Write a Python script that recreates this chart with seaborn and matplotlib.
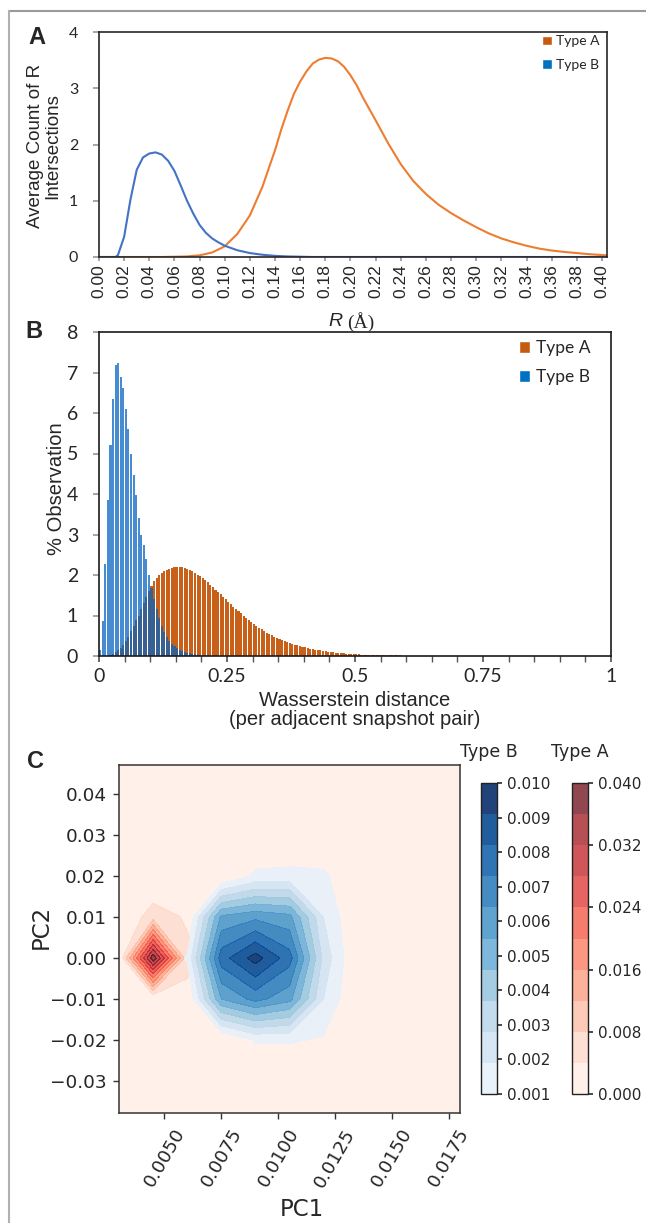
import numpy as np
import pandas as pd
import matplotlib
matplotlib.use("Agg")
import matplotlib.pyplot as plt
import seaborn as sns
from matplotlib.patches import Patch
from matplotlib.lines import Line2D
from matplotlib.colors import ListedColormap
from matplotlib.ticker import FuncFormatter

# ---------------- Panel A data ----------------
r_type_a = [0.00, 0.02, 0.04, 0.05, 0.06, 0.07, 0.08, 0.09, 0.10, 0.11, 0.12, 0.13, 0.14,
            0.145, 0.15, 0.155, 0.16, 0.165, 0.17, 0.175, 0.18, 0.185, 0.19, 0.195, 0.20,
            0.205, 0.21, 0.215, 0.22, 0.23, 0.24, 0.25, 0.26, 0.27, 0.28, 0.29, 0.30, 0.31,
            0.32, 0.33, 0.34, 0.35, 0.36, 0.37, 0.38, 0.39, 0.40, 0.404]
count_type_a = [0, 0, 0, 0, 0.005, 0.01, 0.03, 0.08, 0.19, 0.41, 0.74, 1.25, 1.9,
                2.27, 2.6, 2.9, 3.12, 3.3, 3.44, 3.51, 3.54, 3.53, 3.48, 3.38, 3.23,
                3.05, 2.83, 2.63, 2.43, 2.02, 1.65, 1.35, 1.12, 0.93, 0.78, 0.65, 0.53, 0.42,
                0.33, 0.26, 0.2, 0.15, 0.115, 0.09, 0.07, 0.05, 0.035, 0.03]
r_type_b = [0.00, 0.010, 0.013, 0.015, 0.020, 0.025, 0.030, 0.035, 0.040, 0.045, 0.050,
            0.055, 0.060, 0.065, 0.070, 0.075, 0.080, 0.085, 0.090, 0.095, 0.100, 0.110,
            0.120, 0.130, 0.140, 0.150, 0.160, 0.170, 0.200, 0.300, 0.404]
count_type_b = [0, 0, 0, 0.03, 0.36, 1.02, 1.55, 1.77, 1.84, 1.86, 1.82,
                1.71, 1.53, 1.27, 1.0, 0.77, 0.57, 0.43, 0.33, 0.26, 0.2, 0.12,
                0.07, 0.04, 0.02, 0.01, 0.005, 0, 0, 0, 0]
r_ticks = [0.00, 0.02, 0.04, 0.06, 0.08, 0.10, 0.12, 0.14, 0.16, 0.18, 0.20, 0.22, 0.24,
           0.26, 0.28, 0.30, 0.32, 0.34, 0.36, 0.38, 0.40]

# ---------------- Panel B data (% observation per 0.005-wide bin, from 0) ----------------
wd_bin_width = 0.005
wd_pct_type_b = [0.15, 0.86, 2.27, 3.85, 5.22, 6.35, 7.18, 7.24, 6.88, 6.62,
                 6.1, 5.6, 5.0, 4.48, 3.97, 3.4, 3.0, 2.75, 2.4, 2.0,
                 1.68, 1.4, 1.15, 0.95, 0.75, 0.6, 0.48, 0.38, 0.3, 0.24,
                 0.19, 0.15, 0.12, 0.1, 0.08, 0.065, 0.05, 0.04, 0.03, 0.025,
                 0.02, 0.015, 0.01, 0.008, 0.006, 0.004, 0.003, 0.002]
wd_pct_type_a = [0, 0, 0.005, 0.01, 0.02, 0.05, 0.09, 0.14, 0.2, 0.28,
                 0.37, 0.48, 0.62, 0.75, 0.88, 1.0, 1.15, 1.3, 1.45, 1.6,
                 1.73, 1.84, 1.93, 2.0, 2.05, 2.09, 2.12, 2.15, 2.17, 2.19,
                 2.2, 2.2, 2.19, 2.17, 2.15, 2.12, 2.09, 2.05, 2.01, 1.97,
                 1.92, 1.87, 1.82, 1.76, 1.7, 1.64, 1.58, 1.52, 1.46, 1.4,
                 1.34, 1.28, 1.22, 1.16, 1.1, 1.05, 0.99, 0.94, 0.89, 0.84,
                 0.79, 0.74, 0.7, 0.66, 0.62, 0.58, 0.54, 0.51, 0.48, 0.45,
                 0.42, 0.39, 0.37, 0.34, 0.32, 0.3, 0.28, 0.26, 0.24, 0.23,
                 0.21, 0.2, 0.18, 0.17, 0.16, 0.15, 0.14, 0.13, 0.12, 0.11,
                 0.1, 0.09, 0.085, 0.08, 0.07, 0.065, 0.06, 0.055, 0.05, 0.045,
                 0.042, 0.039, 0.036, 0.033, 0.031, 0.029, 0.027, 0.025, 0.023, 0.021,
                 0.02, 0.019, 0.018, 0.017, 0.016, 0.015, 0.014, 0.013, 0.012, 0.011,
                 0.01, 0.01, 0.009, 0.009, 0.008, 0.008, 0.007, 0.007, 0.006, 0.006,
                 0.005, 0.005, 0.005, 0.005, 0.005, 0.004, 0.004, 0.004, 0.004, 0.004,
                 0.003, 0.003, 0.003, 0.003, 0.003, 0.003, 0.003, 0.003, 0.003, 0.003]
wd_major_ticks = [0, 0.25, 0.5, 0.75, 1]
wd_major_labels = ["0", "0.25", "0.5", "0.75", "1"]

# ---------------- Panel C data (density on a PC1 x PC2 grid) ----------------
pc1_nodes = [0.0030, 0.0045, 0.0060, 0.0075, 0.0090, 0.0105, 0.0120, 0.0135, 0.0150, 0.0165, 0.0180]
pc2_nodes = [-0.04, -0.03, -0.02, -0.01, 0.00, 0.01, 0.02, 0.03, 0.04, 0.05]
density_type_a = [
    [0, 0, 0, 0, 0, 0, 0, 0, 0, 0, 0],
    [0, 0, 0, 0, 0, 0, 0, 0, 0, 0, 0],
    [0, 0, 0, 0, 0, 0, 0, 0, 0, 0, 0],
    [0, 0, 0.003, 0, 0, 0, 0, 0, 0, 0, 0],
    [0, 0.039, 0.005, 0.001, 0, 0, 0, 0, 0, 0, 0],
    [0, 0.006, 0.0035, 0, 0, 0, 0, 0, 0, 0, 0],
    [0, 0, 0, 0, 0, 0, 0, 0, 0, 0, 0],
    [0, 0, 0, 0, 0, 0, 0, 0, 0, 0, 0],
    [0, 0, 0, 0, 0, 0, 0, 0, 0, 0, 0],
    [0, 0, 0, 0, 0, 0, 0, 0, 0, 0, 0],
]
density_type_b = [
    [0, 0, 0, 0, 0, 0, 0, 0, 0, 0, 0],
    [0, 0, 0, 0, 0, 0, 0, 0, 0, 0, 0],
    [0, 0, 0, 0, 0.0011, 0.0011, 0.0009, 0, 0, 0, 0],
    [0, 0, 0, 0.0055, 0.0067, 0.0058, 0.0019, 0, 0, 0, 0],
    [0, 0, 0.0011, 0.0078, 0.0095, 0.0077, 0.0025, 0, 0, 0, 0],
    [0, 0, 0, 0.0057, 0.0062, 0.0058, 0.0019, 0, 0, 0, 0],
    [0, 0, 0, 0, 0.0012, 0.0013, 0.0012, 0, 0, 0, 0],
    [0, 0, 0, 0, 0, 0, 0, 0, 0, 0, 0],
    [0, 0, 0, 0, 0, 0, 0, 0, 0, 0, 0],
    [0, 0, 0, 0, 0, 0, 0, 0, 0, 0, 0],
]
levels_type_a = [0.000, 0.004, 0.008, 0.012, 0.016, 0.020, 0.024, 0.028, 0.032, 0.036, 0.040]
levels_type_b = [0.0010, 0.0019, 0.0028, 0.0037, 0.0046, 0.0055, 0.0064, 0.0073, 0.0082, 0.0091, 0.0100]
cbar_ticks_a = [0.000, 0.008, 0.016, 0.024, 0.032, 0.040]
cbar_ticks_b = [0.001, 0.002, 0.003, 0.004, 0.005, 0.006, 0.007, 0.008, 0.009, 0.010]

# ---------------- Styling ----------------
sns.set_theme(style="ticks")
plt.rcParams["font.family"] = ["DejaVu Sans"]
plt.rcParams["axes.linewidth"] = 1.0

W, H = 646, 1223
fig = plt.figure(figsize=(W / 100, H / 100), dpi=100)
fig.patch.set_facecolor("white")


def rect(x0, y0, x1, y1):
    return [x0 / W, 1 - y1 / H, (x1 - x0) / W, (y1 - y0) / H]


def ftext(px, py, s, **kw):
    return fig.text(px / W, 1 - py / H, s, **kw)


ORANGE_LINE = "#ED7D31"
BLUE_LINE = "#4472C4"
ORANGE_SQ = "#C55A11"
BLUE_SQ = "#0070C0"
ARIAL = "Liberation Sans"
CALIBRI = "Lato"

# frame lines of the figure
fig.add_artist(Line2D([9 / W, 1], [1 - 11 / H, 1 - 11 / H], color="#9a9a9a", lw=1.5, transform=fig.transFigure))
fig.add_artist(Line2D([9 / W, 9 / W], [1 - 11 / H, 0], color="#b0b0b0", lw=1.5, transform=fig.transFigure))

# ================= Panel A =================
axA = fig.add_axes(rect(99, 32, 607, 257))
dfA = pd.DataFrame({"R": r_type_a, "count": count_type_a})
dfB = pd.DataFrame({"R": r_type_b, "count": count_type_b})
sns.lineplot(data=dfA, x="R", y="count", color=ORANGE_LINE, lw=1.5, ax=axA)
sns.lineplot(data=dfB, x="R", y="count", color=BLUE_LINE, lw=1.5, ax=axA)
axA.set_xlim(0, 0.404)
axA.set_ylim(0, 4)
axA.set_xticks(r_ticks)
axA.set_xticklabels([f"{v:.2f}" for v in r_ticks], rotation=90, fontsize=12.5, family=ARIAL)
axA.set_yticks([0, 1, 2, 3, 4])
axA.set_yticklabels(["0", "1", "2", "3", "4"], fontsize=11.5, family=CALIBRI)
axA.tick_params(axis="y", length=4, pad=11, color="#999999")
axA.tick_params(axis="x", length=3, pad=2, color="#999999")
for s in axA.spines.values():
    s.set_color("#262626")
    s.set_linewidth(1.2)
axA.set_xlabel("")
axA.set_ylabel("")
axA.legend(handles=[Patch(facecolor=ORANGE_SQ, label="Type A"), Patch(facecolor=BLUE_SQ, label="Type B")],
           loc="upper right", bbox_to_anchor=(0.985, 0.985), frameon=False,
           prop={"family": CALIBRI, "size": 10}, handlelength=0.7, handleheight=0.7,
           handletextpad=0.3, labelspacing=0.85, borderaxespad=0, borderpad=0)
ftext(44.5, 146, "Average Count of R\nIntersections", rotation=90, ha="center", va="center",
      fontsize=13.5, family=ARIAL, linespacing=1.0, multialignment="center")
ftext(343, 322, "R", ha="right", va="center", fontsize=14, family=ARIAL, style="italic")
ftext(347, 322, "(Å)", ha="left", va="center", fontsize=14, family="Liberation Serif")
ftext(36.5, 37, "A", ha="center", va="center", fontsize=17, family=ARIAL, weight="bold")

# ================= Panel B =================
axB = fig.add_axes(rect(99, 332, 611, 656))
histA = pd.DataFrame({"wd": [(i + 0.5) * wd_bin_width for i in range(len(wd_pct_type_a))],
                      "pct": wd_pct_type_a})
histB = pd.DataFrame({"wd": [(i + 0.5) * wd_bin_width for i in range(len(wd_pct_type_b))],
                      "pct": wd_pct_type_b})
sns.histplot(data=histA, x="wd", weights="pct", binwidth=wd_bin_width, binrange=(0, 1),
             shrink=0.8, color="#C8601A", alpha=1.0, edgecolor="none", linewidth=0, ax=axB)
sns.histplot(data=histB, x="wd", weights="pct", binwidth=wd_bin_width, binrange=(0, 1),
             shrink=0.8, color="#0060C0", alpha=0.72, edgecolor="none", linewidth=0, ax=axB)
axB.set_xlim(0, 1)
axB.set_ylim(0, 8)
axB.set_xticks(wd_major_ticks)
axB.set_xticklabels(wd_major_labels, fontsize=14, family=CALIBRI)
axB.set_xticks(np.arange(0, 1.0001, 0.05), minor=True)
axB.set_yticks(range(0, 9))
axB.set_yticklabels([str(v) for v in range(0, 9)], fontsize=14, family=CALIBRI)
axB.tick_params(axis="x", which="both", length=4, pad=5, color="#555555")
axB.tick_params(axis="y", length=4, pad=11, color="#999999")
for s in axB.spines.values():
    s.set_color("#1a1a1a")
    s.set_linewidth(1.2)
axB.set_xlabel("")
axB.set_ylabel("")
axB.legend(handles=[Patch(facecolor=ORANGE_SQ, label="Type A"), Patch(facecolor=BLUE_SQ, label="Type B")],
           loc="upper right", bbox_to_anchor=(0.96, 0.975), frameon=False,
           prop={"family": CALIBRI, "size": 12.5}, handlelength=0.65, handleheight=0.75,
           handletextpad=0.35, labelspacing=0.75, borderaxespad=0, borderpad=0)
ftext(56.5, 489, "% Observation", rotation=90, ha="center", va="center", fontsize=14.5, family=ARIAL)
ftext(355, 710, "Wasserstein distance\n(per adjacent snapshot pair)", ha="center", va="center",
      fontsize=14.5, family=ARIAL, linespacing=1.05)
ftext(34, 332, "B", ha="center", va="center", fontsize=17, family=ARIAL, weight="bold")

# ================= Panel C =================
axC = fig.add_axes(rect(119, 765, 460, 1113))
X, Y = np.meshgrid(pc1_nodes, pc2_nodes)
reds = ListedColormap(plt.get_cmap("Reds")(np.linspace(0.06, 1.0, 10)))
blues = ListedColormap(plt.get_cmap("Blues")(np.linspace(0.08, 1.0, 10)))
cs_a = axC.contourf(X, Y, np.array(density_type_a), levels=levels_type_a, cmap=reds, alpha=0.72)
cs_b = axC.contourf(X, Y, np.array(density_type_b), levels=levels_type_b, cmap=blues, alpha=0.9)
axC.set_xlim(0.0030, 0.0180)
axC.set_ylim(-0.0378, 0.0471)
axC.set_xticks([0.0050, 0.0075, 0.0100, 0.0125, 0.0150, 0.0175])
axC.set_yticks([-0.03, -0.02, -0.01, 0.00, 0.01, 0.02, 0.03, 0.04])
axC.xaxis.set_major_formatter(FuncFormatter(lambda v, p: f"{v:.4f}"))
axC.yaxis.set_major_formatter(FuncFormatter(lambda v, p: f"{v:.2f}".replace("-", "\u2212") if abs(v) > 1e-9 else "0.00"))
axC.tick_params(axis="both", labelsize=13.3, length=4.5, width=1, color="#333333", pad=4.5)
plt.setp(axC.get_xticklabels(), rotation=60, ha="center")
for s in axC.spines.values():
    s.set_color("#333333")
    s.set_linewidth(1.1)
ftext(41, 927, "PC2", rotation=90, ha="center", va="center", fontsize=16.5)
ftext(302, 1210, "PC1", ha="center", va="center", fontsize=16.5)
ftext(35, 761, "C", ha="center", va="center", fontsize=17, family=ARIAL, weight="bold")

caxB = fig.add_axes(rect(481, 783, 497, 1094))
cbB = fig.colorbar(cs_b, cax=caxB, ticks=cbar_ticks_b)
cbB.ax.yaxis.set_major_formatter(FuncFormatter(lambda v, p: f"{v:.3f}"))
cbB.ax.tick_params(labelsize=11, length=3.5, color="#333333")
cbB.outline.set_edgecolor("#222222")
cbB.outline.set_linewidth(1.0)

caxA = fig.add_axes(rect(572, 783, 588, 1094))
cbA = fig.colorbar(cs_a, cax=caxA, ticks=cbar_ticks_a)
cbA.ax.yaxis.set_major_formatter(FuncFormatter(lambda v, p: f"{v:.3f}"))
cbA.ax.tick_params(labelsize=11, length=3.5, color="#333333")
cbA.outline.set_edgecolor("#222222")
cbA.outline.set_linewidth(1.0)

ftext(489, 752, "Type B", ha="center", va="center", fontsize=12.5)
ftext(580, 752, "Type A", ha="center", va="center", fontsize=12.5)

fig.savefig("out.png", dpi=100, facecolor="white")
